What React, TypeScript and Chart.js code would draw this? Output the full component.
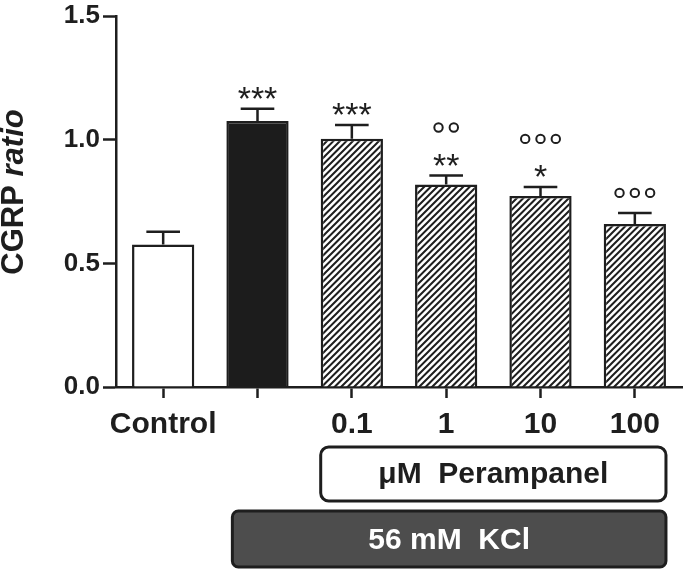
import React, { useEffect, useRef } from "react";
import { Chart, registerables } from "chart.js";

Chart.register(...registerables);

// ---- data ----
const categories = ["Control", "", "0.1", "1", "10", "100"];
const means = [0.576, 1.075, 1.004, 0.819, 0.772, 0.659];
const sems = [0.052, 0.05, 0.055, 0.036, 0.037, 0.045];
const stars = ["", "***", "***", "**", "*", ""];
const circles = [0, 0, 0, 2, 3, 3];
const yTicks = [0, 0.5, 1.0, 1.5];
const yTickLabels = ["0.0", "0.5", "1.0", "1.5"];
const yTitleMain = "CGRP ";
const yTitleItalic = "ratio";
const drugLabel = "\u03bcM  Perampanel";
const kclLabel = "56 mM  KCl";

export default function App() {
  const ref = useRef<HTMLCanvasElement>(null);

  useEffect(() => {
    document.body.style.margin = "0";
    const canvas = ref.current!;
    const ink = "#1e1e1e";
    const font = "'Liberation Sans', Arial, Helvetica, sans-serif";

    // hatch pattern
    const s = 6.5;
    const tile = document.createElement("canvas");
    tile.width = 13;
    tile.height = 13;
    const tctx = tile.getContext("2d")!;
    tctx.fillStyle = "#ffffff";
    tctx.fillRect(0, 0, 13, 13);
    tctx.strokeStyle = ink;
    tctx.lineWidth = 2;
    tctx.beginPath();
    for (let k = -2; k <= 4; k++) {
      const o = k * s;
      tctx.moveTo(o - 2, 13 + 2);
      tctx.lineTo(o + 13 + 2, -2);
    }
    tctx.stroke();
    const hatch = canvas.getContext("2d")!.createPattern(tile, "repeat")!;
    const fills: any[] = ["#ffffff", "#1c1c1c", hatch, hatch, hatch, hatch];

    const overlay = {
      id: "overlay",
      afterDatasetsDraw(chart: any) {
        const ctx = chart.ctx as CanvasRenderingContext2D;
        const y = chart.scales.y;
        const meta = chart.getDatasetMeta(0);
        ctx.save();
        meta.data.forEach((bar: any, i: number) => {
          const top = y.getPixelForValue(means[i]);
          const cap = y.getPixelForValue(means[i] + sems[i]);
          const half = bar.width * 0.27;
          ctx.strokeStyle = ink;
          ctx.lineWidth = 2.5;
          ctx.beginPath();
          ctx.moveTo(bar.x, top);
          ctx.lineTo(bar.x, cap);
          ctx.moveTo(bar.x - half, cap);
          ctx.lineTo(bar.x + half, cap);
          ctx.stroke();

          // significance stars
          if (stars[i]) {
            ctx.font = `34px ${font}`;
            ctx.fillStyle = ink;
            ctx.textAlign = "center";
            ctx.textBaseline = "alphabetic";
            const m = ctx.measureText(stars[i]);
            const cy = cap - 16;
            const base = cy + (m.actualBoundingBoxAscent - m.actualBoundingBoxDescent) / 2;
            ctx.fillText(stars[i], bar.x, base);
          }
          // circles
          const n = circles[i];
          if (n > 0) {
            const cy = stars[i] ? cap - 48 : cap - 20;
            ctx.lineWidth = 2;
            for (let k = 0; k < n; k++) {
              const cx = bar.x + (k - (n - 1) / 2) * 15.3;
              ctx.beginPath();
              ctx.arc(cx, cy, 4.2, 0, Math.PI * 2);
              ctx.stroke();
            }
          }
        });
        ctx.restore();
      },
      afterDraw(chart: any) {
        const ctx = chart.ctx as CanvasRenderingContext2D;
        const meta = chart.getDatasetMeta(0);
        const bars = meta.data;
        ctx.save();

        // y title
        ctx.translate(23, 192);
        ctx.rotate(-Math.PI / 2);
        ctx.fillStyle = ink;
        ctx.textBaseline = "alphabetic";
        ctx.textAlign = "left";
        const f1 = `bold 31px ${font}`;
        const f2 = `italic bold 31px ${font}`;
        ctx.font = f1;
        const w1 = ctx.measureText(yTitleMain).width;
        ctx.font = f2;
        const w2 = ctx.measureText(yTitleItalic).width;
        const start = -(w1 + w2) / 2;
        ctx.font = f1;
        ctx.fillText(yTitleMain, start, 0);
        ctx.font = f2;
        ctx.fillText(yTitleItalic, start + w1, 0);
        ctx.setTransform(1, 0, 0, 1, 0, 0);

        // boxes
        const b1 = bars[1];
        const b2 = bars[2];
        const b5 = bars[5];
        const dl = b2.x - b2.width / 2;
        const dr = b5.x + b5.width / 2;
        ctx.lineWidth = 3;
        ctx.strokeStyle = ink;
        ctx.fillStyle = "#ffffff";
        ctx.beginPath();
        (ctx as any).roundRect(dl, 447, dr - dl, 54, 8);
        ctx.fill();
        ctx.stroke();
        ctx.fillStyle = ink;
        ctx.font = `bold 30px ${font}`;
        ctx.textAlign = "center";
        ctx.textBaseline = "middle";
        ctx.fillText(drugLabel, (dl + dr) / 2, 475);

        const kl = b1.x - b1.width / 2 + 6;
        ctx.fillStyle = "#4d4d4d";
        ctx.beginPath();
        (ctx as any).roundRect(kl, 511, dr - kl, 56, 6);
        ctx.fill();
        ctx.stroke();
        ctx.fillStyle = "#ffffff";
        ctx.fillText(kclLabel, (kl + dr) / 2, 541);
        ctx.restore();
      },
    };

    const chart = new Chart(canvas, {
      type: "bar",
      data: {
        labels: categories,
        datasets: [
          {
            data: means,
            backgroundColor: fills,
            borderColor: ink,
            borderWidth: 2.5,
            borderSkipped: "start",
            categoryPercentage: 1,
            barPercentage: 0.66,
          },
        ],
      },
      options: {
        responsive: false,
        animation: false,
        devicePixelRatio: 1,
        layout: { padding: { left: 0, right: 3, top: 13, bottom: 0 } },
        plugins: {
          legend: { display: false },
          tooltip: { enabled: false },
          title: { display: false },
        },
        scales: {
          x: {
            offset: true,
            grid: {
              offset: false,
              drawOnChartArea: false,
              drawTicks: true,
              tickLength: 11,
              tickWidth: 2.5,
              tickColor: ink,
            },
            border: { display: true, color: ink, width: 2.5 },
            ticks: {
              color: ink,
              font: { family: font, size: 30, weight: "bold" },
              padding: 9,
              maxRotation: 0,
              autoSkip: false,
            },
            afterFit: (sc: any) => {
              sc.height = 183;
            },
          },
          y: {
            min: 0,
            max: 1.5,
            grid: {
              drawOnChartArea: false,
              tickLength: 13,
              tickWidth: 2.5,
              tickColor: ink,
            },
            border: { display: true, color: ink, width: 2.5 },
            ticks: {
              color: ink,
              font: { family: font, size: 26, weight: "bold", lineHeight: 1 },
              padding: 3,
              callback: (_v: any, i: number) => yTickLabels[i],
            },
            afterBuildTicks: (sc: any) => {
              sc.ticks = yTicks.map((v) => ({ value: v }));
            },
            afterFit: (sc: any) => {
              sc.width = 116;
            },
          },
        },
      } as any,
      plugins: [overlay],
    });

    return () => chart.destroy();
  }, []);

  return (
    <canvas
      ref={ref}
      width={685}
      height={570}
      style={{ display: "block", width: "685px", height: "570px" }}
    />
  );
}
